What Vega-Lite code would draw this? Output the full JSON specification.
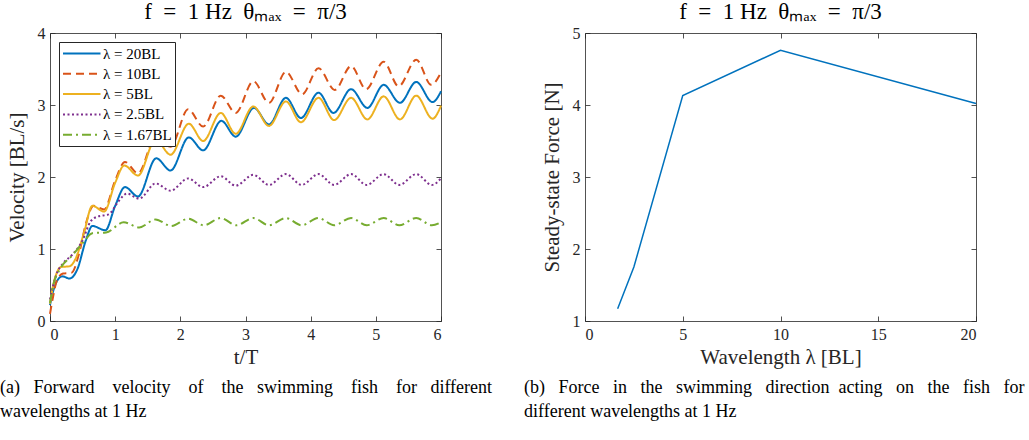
{
  "$schema": "https://vega.github.io/schema/vega-lite/v6.json",
  "padding": {"left": 0, "top": 1, "right": 0, "bottom": 0},
  "background": "white",
  "config": {
    "font": "Liberation Serif",
    "view": {"stroke": null},
    "axis": {"domainColor": "#262626", "tickColor": "#262626", "labelColor": "#262626", "titleColor": "#262626", "labelFont": "Liberation Serif", "titleFont": "Liberation Serif", "labelFontSize": 16, "titleFontSize": 21, "titleFontWeight": "normal", "grid": false, "domainWidth": 0.8, "tickWidth": 0.8, "tickSize": -5},
    "title": {"font": "Liberation Serif", "fontSize": 23, "fontWeight": "normal", "color": "#000000"},
    "legend": {"labelFont": "Liberation Serif", "labelFontSize": 15, "labelColor": "#000000"}
  },
  "datasets": {
    "vel": [
      {"series": "λ = 20BL", "t": 0, "v": 0.22}, {"series": "λ = 20BL", "t": 0.05, "v": 0.42}, {"series": "λ = 20BL", "t": 0.11, "v": 0.56}, {"series": "λ = 20BL", "t": 0.19, "v": 0.62}, {"series": "λ = 20BL", "t": 0.3, "v": 0.59}, {"series": "λ = 20BL", "t": 0.42, "v": 0.72}, {"series": "λ = 20BL", "t": 0.55, "v": 1.12}, {"series": "λ = 20BL", "t": 0.65, "v": 1.32}, {"series": "λ = 20BL", "t": 0.85, "v": 1.26}, {"series": "λ = 20BL", "t": 1.0, "v": 1.6}, {"series": "λ = 20BL", "t": 1.15, "v": 1.86}, {"series": "λ = 20BL", "t": 1.35, "v": 1.73}, {"series": "λ = 20BL", "t": 1.63, "v": 2.26}, {"series": "λ = 20BL", "t": 1.85, "v": 2.09}, {"series": "λ = 20BL", "t": 2.13, "v": 2.55}, {"series": "λ = 20BL", "t": 2.35, "v": 2.37}, {"series": "λ = 20BL", "t": 2.63, "v": 2.78}, {"series": "λ = 20BL", "t": 2.85, "v": 2.56}, {"series": "λ = 20BL", "t": 3.13, "v": 2.96}, {"series": "λ = 20BL", "t": 3.36, "v": 2.73}, {"series": "λ = 20BL", "t": 3.62, "v": 3.1}, {"series": "λ = 20BL", "t": 3.85, "v": 2.82}, {"series": "λ = 20BL", "t": 4.12, "v": 3.17}, {"series": "λ = 20BL", "t": 4.35, "v": 2.89}, {"series": "λ = 20BL", "t": 4.62, "v": 3.22}, {"series": "λ = 20BL", "t": 4.87, "v": 2.96}, {"series": "λ = 20BL", "t": 5.12, "v": 3.28}, {"series": "λ = 20BL", "t": 5.37, "v": 3.03}, {"series": "λ = 20BL", "t": 5.62, "v": 3.32}, {"series": "λ = 20BL", "t": 5.87, "v": 3.04}, {"series": "λ = 20BL", "t": 6.0, "v": 3.19},
      {"series": "λ = 10BL", "t": 0, "v": 0.1}, {"series": "λ = 10BL", "t": 0.05, "v": 0.35}, {"series": "λ = 10BL", "t": 0.1, "v": 0.55}, {"series": "λ = 10BL", "t": 0.2, "v": 0.66}, {"series": "λ = 10BL", "t": 0.33, "v": 0.67}, {"series": "λ = 10BL", "t": 0.45, "v": 0.95}, {"series": "λ = 10BL", "t": 0.55, "v": 1.35}, {"series": "λ = 10BL", "t": 0.67, "v": 1.6}, {"series": "λ = 10BL", "t": 0.83, "v": 1.55}, {"series": "λ = 10BL", "t": 1.0, "v": 1.95}, {"series": "λ = 10BL", "t": 1.15, "v": 2.21}, {"series": "λ = 10BL", "t": 1.35, "v": 2.05}, {"series": "λ = 10BL", "t": 1.62, "v": 2.55}, {"series": "λ = 10BL", "t": 1.85, "v": 2.42}, {"series": "λ = 10BL", "t": 2.12, "v": 2.94}, {"series": "λ = 10BL", "t": 2.35, "v": 2.7}, {"series": "λ = 10BL", "t": 2.62, "v": 3.13}, {"series": "λ = 10BL", "t": 2.85, "v": 2.89}, {"series": "λ = 10BL", "t": 3.12, "v": 3.33}, {"series": "λ = 10BL", "t": 3.36, "v": 3.03}, {"series": "λ = 10BL", "t": 3.62, "v": 3.46}, {"series": "λ = 10BL", "t": 3.87, "v": 3.15}, {"series": "λ = 10BL", "t": 4.12, "v": 3.51}, {"series": "λ = 10BL", "t": 4.37, "v": 3.21}, {"series": "λ = 10BL", "t": 4.62, "v": 3.54}, {"series": "λ = 10BL", "t": 4.85, "v": 3.22}, {"series": "λ = 10BL", "t": 5.12, "v": 3.6}, {"series": "λ = 10BL", "t": 5.35, "v": 3.26}, {"series": "λ = 10BL", "t": 5.62, "v": 3.63}, {"series": "λ = 10BL", "t": 5.85, "v": 3.28}, {"series": "λ = 10BL", "t": 6.0, "v": 3.45},
      {"series": "λ = 5BL", "t": 0, "v": 0.24}, {"series": "λ = 5BL", "t": 0.05, "v": 0.5}, {"series": "λ = 5BL", "t": 0.1, "v": 0.66}, {"series": "λ = 5BL", "t": 0.17, "v": 0.75}, {"series": "λ = 5BL", "t": 0.3, "v": 0.76}, {"series": "λ = 5BL", "t": 0.4, "v": 0.88}, {"series": "λ = 5BL", "t": 0.52, "v": 1.22}, {"series": "λ = 5BL", "t": 0.65, "v": 1.6}, {"series": "λ = 5BL", "t": 0.83, "v": 1.52}, {"series": "λ = 5BL", "t": 1.0, "v": 1.92}, {"series": "λ = 5BL", "t": 1.14, "v": 2.16}, {"series": "λ = 5BL", "t": 1.35, "v": 2.02}, {"series": "λ = 5BL", "t": 1.62, "v": 2.52}, {"series": "λ = 5BL", "t": 1.85, "v": 2.31}, {"series": "λ = 5BL", "t": 2.13, "v": 2.74}, {"series": "λ = 5BL", "t": 2.35, "v": 2.5}, {"series": "λ = 5BL", "t": 2.62, "v": 2.89}, {"series": "λ = 5BL", "t": 2.85, "v": 2.6}, {"series": "λ = 5BL", "t": 3.12, "v": 2.98}, {"series": "λ = 5BL", "t": 3.36, "v": 2.71}, {"series": "λ = 5BL", "t": 3.62, "v": 3.05}, {"series": "λ = 5BL", "t": 3.85, "v": 2.76}, {"series": "λ = 5BL", "t": 4.12, "v": 3.1}, {"series": "λ = 5BL", "t": 4.36, "v": 2.79}, {"series": "λ = 5BL", "t": 4.62, "v": 3.1}, {"series": "λ = 5BL", "t": 4.87, "v": 2.8}, {"series": "λ = 5BL", "t": 5.12, "v": 3.12}, {"series": "λ = 5BL", "t": 5.37, "v": 2.8}, {"series": "λ = 5BL", "t": 5.62, "v": 3.13}, {"series": "λ = 5BL", "t": 5.87, "v": 2.81}, {"series": "λ = 5BL", "t": 6.0, "v": 2.99},
      {"series": "λ = 2.5BL", "t": 0, "v": 0.3}, {"series": "λ = 2.5BL", "t": 0.05, "v": 0.5}, {"series": "λ = 2.5BL", "t": 0.1, "v": 0.65}, {"series": "λ = 2.5BL", "t": 0.2, "v": 0.8}, {"series": "λ = 2.5BL", "t": 0.34, "v": 0.92}, {"series": "λ = 2.5BL", "t": 0.5, "v": 1.12}, {"series": "λ = 2.5BL", "t": 0.62, "v": 1.38}, {"series": "λ = 2.5BL", "t": 0.73, "v": 1.45}, {"series": "λ = 2.5BL", "t": 0.9, "v": 1.48}, {"series": "λ = 2.5BL", "t": 1.05, "v": 1.66}, {"series": "λ = 2.5BL", "t": 1.18, "v": 1.77}, {"series": "λ = 2.5BL", "t": 1.37, "v": 1.7}, {"series": "λ = 2.5BL", "t": 1.62, "v": 1.91}, {"series": "λ = 2.5BL", "t": 1.85, "v": 1.81}, {"series": "λ = 2.5BL", "t": 2.12, "v": 1.98}, {"series": "λ = 2.5BL", "t": 2.35, "v": 1.86}, {"series": "λ = 2.5BL", "t": 2.62, "v": 2.01}, {"series": "λ = 2.5BL", "t": 2.85, "v": 1.88}, {"series": "λ = 2.5BL", "t": 3.12, "v": 2.03}, {"series": "λ = 2.5BL", "t": 3.36, "v": 1.89}, {"series": "λ = 2.5BL", "t": 3.62, "v": 2.04}, {"series": "λ = 2.5BL", "t": 3.86, "v": 1.89}, {"series": "λ = 2.5BL", "t": 4.12, "v": 2.04}, {"series": "λ = 2.5BL", "t": 4.36, "v": 1.89}, {"series": "λ = 2.5BL", "t": 4.62, "v": 2.04}, {"series": "λ = 2.5BL", "t": 4.86, "v": 1.89}, {"series": "λ = 2.5BL", "t": 5.12, "v": 2.04}, {"series": "λ = 2.5BL", "t": 5.36, "v": 1.89}, {"series": "λ = 2.5BL", "t": 5.62, "v": 2.04}, {"series": "λ = 2.5BL", "t": 5.86, "v": 1.89}, {"series": "λ = 2.5BL", "t": 6.0, "v": 1.98},
      {"series": "λ = 1.67BL", "t": 0, "v": 0.25}, {"series": "λ = 1.67BL", "t": 0.05, "v": 0.5}, {"series": "λ = 1.67BL", "t": 0.14, "v": 0.7}, {"series": "λ = 1.67BL", "t": 0.34, "v": 0.91}, {"series": "λ = 1.67BL", "t": 0.5, "v": 1.08}, {"series": "λ = 1.67BL", "t": 0.65, "v": 1.22}, {"series": "λ = 1.67BL", "t": 0.86, "v": 1.23}, {"series": "λ = 1.67BL", "t": 1.13, "v": 1.37}, {"series": "λ = 1.67BL", "t": 1.37, "v": 1.3}, {"series": "λ = 1.67BL", "t": 1.62, "v": 1.41}, {"series": "λ = 1.67BL", "t": 1.86, "v": 1.32}, {"series": "λ = 1.67BL", "t": 2.12, "v": 1.42}, {"series": "λ = 1.67BL", "t": 2.36, "v": 1.33}, {"series": "λ = 1.67BL", "t": 2.62, "v": 1.43}, {"series": "λ = 1.67BL", "t": 2.86, "v": 1.33}, {"series": "λ = 1.67BL", "t": 3.12, "v": 1.43}, {"series": "λ = 1.67BL", "t": 3.36, "v": 1.33}, {"series": "λ = 1.67BL", "t": 3.62, "v": 1.43}, {"series": "λ = 1.67BL", "t": 3.86, "v": 1.33}, {"series": "λ = 1.67BL", "t": 4.12, "v": 1.43}, {"series": "λ = 1.67BL", "t": 4.36, "v": 1.33}, {"series": "λ = 1.67BL", "t": 4.62, "v": 1.43}, {"series": "λ = 1.67BL", "t": 4.86, "v": 1.33}, {"series": "λ = 1.67BL", "t": 5.12, "v": 1.43}, {"series": "λ = 1.67BL", "t": 5.36, "v": 1.33}, {"series": "λ = 1.67BL", "t": 5.62, "v": 1.43}, {"series": "λ = 1.67BL", "t": 5.86, "v": 1.33}, {"series": "λ = 1.67BL", "t": 6.0, "v": 1.37}
    ],
    "force": [
      {"lambda": 1.67, "F": 1.17}, {"lambda": 2.5, "F": 1.75}, {"lambda": 5, "F": 4.13}, {"lambda": 10, "F": 4.76}, {"lambda": 20, "F": 4.02}
    ]
  },
  "spacing": 31,
  "hconcat": [
    {
      "title": {"text": ["(a)\u00a0\u00a0 Forward\u00a0\u00a0\u00a0 velocity\u00a0\u00a0\u00a0 of\u00a0\u00a0\u00a0 the\u00a0\u00a0 swimming\u00a0\u00a0\u00a0 fish\u00a0\u00a0\u00a0 for\u00a0\u00a0 different", "wavelengths at 1 Hz"], "orient": "bottom", "anchor": "start", "font": "Liberation Serif", "fontSize": 18, "lineHeight": 24, "offset": 12, "dx": -6},
      "vconcat": [
        {
          "width": 391, "height": 288,
          "title": {"text": "f\u00a0\u00a0=\u00a0\u00a01\u00a0Hz\u00a0\u00a0θₘₐₓ\u00a0\u00a0=\u00a0\u00a0π/3", "frame": "group", "offset": 1, "font": "Liberation Serif"},
          "data": {"name": "vel"},
          "layer": [
            {
              "mark": {"type": "line", "interpolate": "monotone"},
              "encoding": {
                "x": {"field": "t", "type": "quantitative", "scale": {"domain": [0, 6], "nice": false}, "axis": {"title": "t/T", "values": [0, 1, 2, 3, 4, 5, 6], "labelPadding": 10, "titlePadding": 4}},
                "y": {"field": "v", "type": "quantitative", "scale": {"domain": [0, 4], "nice": false}, "axis": {"title": "Velocity [BL/s]", "values": [0, 1, 2, 3, 4], "labelPadding": 10, "titlePadding": 10}},
                "color": {"field": "series", "type": "nominal", "scale": {"domain": ["λ = 20BL", "λ = 10BL", "λ = 5BL", "λ = 2.5BL", "λ = 1.67BL"], "range": ["#0072BD", "#D95319", "#EDB120", "#7E2F8E", "#77AC30"]}, "legend": {"title": null, "orient": "top-left", "offset": 9, "symbolType": "M-1,0H4", "symbolSize": 225, "symbolStrokeWidth": 2, "strokeColor": "#262626", "fillColor": "white", "padding": 3, "rowPadding": 3.3, "labelOffset": 24, "labelFont": "Liberation Serif", "labelFontSize": 15}},
                "strokeDash": {"field": "series", "type": "nominal", "scale": {"domain": ["λ = 20BL", "λ = 10BL", "λ = 5BL", "λ = 2.5BL", "λ = 1.67BL"], "range": [[1, 0], [8, 5], [1, 0], [2, 2.5], [9, 4, 2, 4]]}, "legend": {"title": null}},
                "strokeWidth": {"field": "series", "type": "nominal", "scale": {"domain": ["λ = 20BL", "λ = 10BL", "λ = 5BL", "λ = 2.5BL", "λ = 1.67BL"], "range": [2, 2, 3.4, 2, 2]}, "legend": null}
              }
            },
            {
              "mark": {"type": "point", "opacity": 0},
              "encoding": {
                "x": {"field": "t", "type": "quantitative", "axis": {"orient": "top", "labels": false, "title": null, "values": [0, 1, 2, 3, 4, 5, 6]}},
                "y": {"field": "v", "type": "quantitative", "axis": {"orient": "right", "labels": false, "title": null, "values": [0, 1, 2, 3, 4]}}
              }
            }
          ],
          "resolve": {"axis": {"x": "independent", "y": "independent"}}
        }
      ]
    },
    {
      "title": {"text": ["(b)\u00a0\u00a0 Force\u00a0\u00a0 in\u00a0\u00a0 the\u00a0\u00a0 swimming\u00a0\u00a0 direction\u00a0 acting\u00a0\u00a0 on\u00a0\u00a0 the\u00a0\u00a0 fish\u00a0\u00a0 for", "different wavelengths at 1 Hz"], "orient": "bottom", "anchor": "start", "font": "Liberation Serif", "fontSize": 18, "lineHeight": 24, "offset": 12, "dx": -17},
      "vconcat": [
        {
          "width": 391, "height": 288,
          "title": {"text": "f\u00a0\u00a0=\u00a0\u00a01\u00a0Hz\u00a0\u00a0θₘₐₓ\u00a0\u00a0=\u00a0\u00a0π/3", "frame": "group", "offset": 1, "font": "Liberation Serif"},
          "data": {"name": "force"},
          "layer": [
            {
              "mark": {"type": "line", "color": "#0072BD", "strokeWidth": 1.5},
              "encoding": {
                "x": {"field": "lambda", "type": "quantitative", "scale": {"domain": [0, 20], "nice": false}, "axis": {"title": "Wavelength λ [BL]", "values": [0, 5, 10, 15, 20], "labelPadding": 10, "titlePadding": 4}},
                "y": {"field": "F", "type": "quantitative", "scale": {"domain": [1, 5], "nice": false, "zero": false}, "axis": {"title": "Steady-state Force [N]", "values": [1, 2, 3, 4, 5], "labelPadding": 10, "titlePadding": 10}}
              }
            },
            {
              "mark": {"type": "point", "opacity": 0},
              "encoding": {
                "x": {"field": "lambda", "type": "quantitative", "axis": {"orient": "top", "labels": false, "title": null, "values": [0, 5, 10, 15, 20]}},
                "y": {"field": "F", "type": "quantitative", "axis": {"orient": "right", "labels": false, "title": null, "values": [1, 2, 3, 4, 5]}}
              }
            }
          ],
          "resolve": {"axis": {"x": "independent", "y": "independent"}}
        }
      ]
    }
  ]
}
